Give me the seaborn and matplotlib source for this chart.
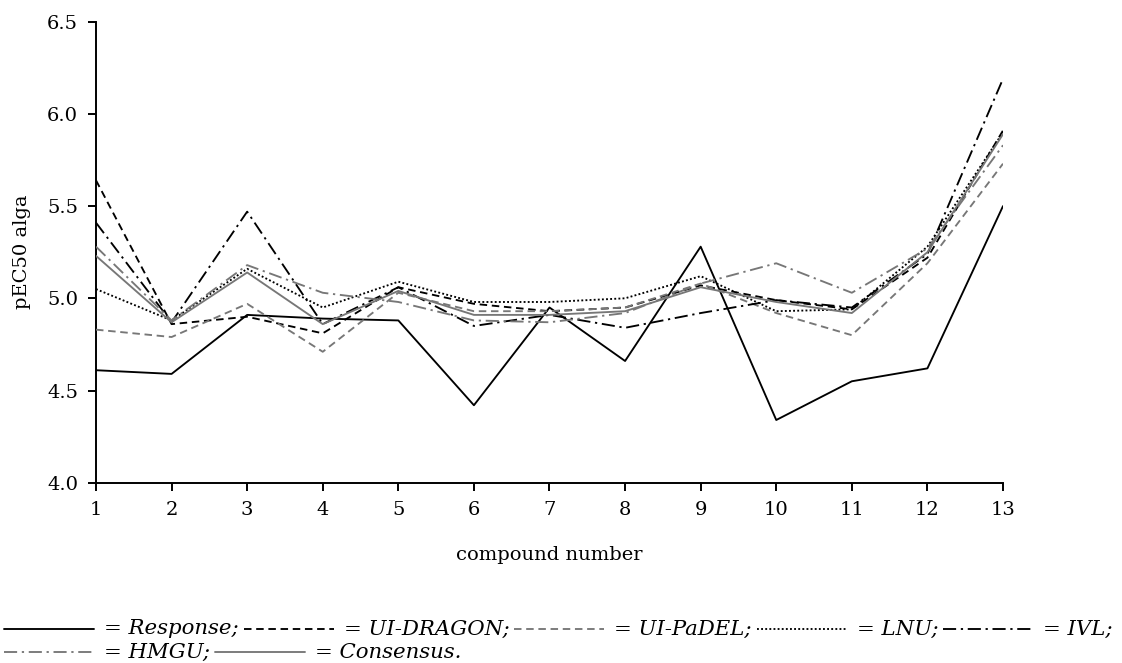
import matplotlib
matplotlib.use("Agg")
import matplotlib.pyplot as plt
from matplotlib.lines import Line2D
import numpy as np
import pandas as pd
import seaborn as sns

# ---------------------------------------------------------------------------
# Data
# ---------------------------------------------------------------------------
compounds = list(range(1, 14))

response   = [4.61, 4.59, 4.91, 4.89, 4.88, 4.42, 4.95, 4.66, 5.28, 4.34, 4.55, 4.62, 5.50]
ui_dragon  = [5.64, 4.86, 4.90, 4.81, 5.06, 4.97, 4.93, 4.95, 5.07, 4.99, 4.94, 5.22, 5.91]
ui_padel   = [4.83, 4.79, 4.97, 4.71, 5.03, 4.93, 4.93, 4.95, 5.08, 4.92, 4.80, 5.19, 5.73]
lnu        = [5.05, 4.88, 5.16, 4.95, 5.09, 4.98, 4.98, 5.00, 5.12, 4.93, 4.94, 5.28, 5.90]
ivl        = [5.41, 4.87, 5.47, 4.86, 5.06, 4.85, 4.91, 4.84, 4.92, 4.99, 4.95, 5.24, 6.19]
hmgu       = [5.28, 4.88, 5.18, 5.03, 4.98, 4.88, 4.87, 4.92, 5.08, 5.19, 5.03, 5.27, 5.83]
consensus  = [5.23, 4.87, 5.14, 4.86, 5.04, 4.91, 4.91, 4.93, 5.06, 4.98, 4.92, 5.25, 5.89]

series_names = ["Response", "UI-DRAGON", "UI-PaDEL", "LNU", "IVL", "HMGU", "Consensus"]
series_values = [response, ui_dragon, ui_padel, lnu, ivl, hmgu, consensus]

y_ticks = [4.0, 4.5, 5.0, 5.5, 6.0, 6.5]

# ---------------------------------------------------------------------------
# Style
# ---------------------------------------------------------------------------
BLACK = "#000000"
GREY = "#777777"
colors = {
    "Response": BLACK, "UI-DRAGON": BLACK, "UI-PaDEL": GREY, "LNU": BLACK,
    "IVL": BLACK, "HMGU": GREY, "Consensus": GREY,
}
dashes = {
    "Response": "", "UI-DRAGON": (4, 2.5), "UI-PaDEL": (4, 2.5),
    "LNU": (1, 1.2), "IVL": (7, 2.5, 1.2, 2.5), "HMGU": (7, 2.5, 1.2, 2.5),
    "Consensus": "",
}
LW = 1.35

sns.set_theme(style="ticks")
plt.rcParams.update({
    "font.family": ["DejaVu Serif"],
    "text.color": "black",
    "axes.labelcolor": "black",
    "axes.edgecolor": "black",
    "axes.linewidth": 1.4,
    "xtick.color": "black",
    "ytick.color": "black",
    "xtick.major.width": 1.4,
    "ytick.major.width": 1.4,
    "xtick.major.size": 6,
    "ytick.major.size": 6,
})

df = pd.DataFrame({
    "compound": np.tile(compounds, len(series_names)),
    "pEC50": np.concatenate(series_values),
    "series": np.repeat(series_names, len(compounds)),
})

W, H = 1122, 663
fig = plt.figure(figsize=(W / 100, H / 100), dpi=100)
ax = fig.add_axes([96 / W, 1 - 482.7 / H, (1003 - 96) / W, (482.7 - 21.7) / H])

sns.lineplot(data=df, x="compound", y="pEC50", hue="series", style="series",
             hue_order=series_names, style_order=series_names,
             palette=colors, dashes=dashes, linewidth=LW, legend=False,
             ax=ax, zorder=3)

ax.set_xlim(1, 13)
ax.set_ylim(4.0, 6.5)
ax.set_xticks(compounds)
ax.set_yticks(y_ticks)
ax.set_yticklabels([f"{v:.1f}" for v in y_ticks])
ax.tick_params(labelsize=14, direction="out", pad=7)
sns.despine(ax=ax)
for s in ("left", "bottom"):
    ax.spines[s].set_linewidth(1.4)

ax.set_xlabel("compound number", fontsize=14)
ax.set_ylabel("pEC50 alga", fontsize=14)
ax.xaxis.set_label_coords(0.5, (482.7 - 555) / 461.0)
ax.yaxis.set_label_coords((22 - 96) / 907.0, 0.5)
ax.xaxis.label.set_va("center")
ax.yaxis.label.set_va("center")

# ---------------------------------------------------------------------------
# Inline key written as two lines of text below the chart
# ---------------------------------------------------------------------------
renderer = fig.canvas.get_renderer()


def draw_key(entries, y_px, x0=4, seg=90):
    x = x0
    yf = 1 - y_px / H
    for name, suffix in entries:
        fig.add_artist(Line2D([x / W, (x + seg) / W], [yf, yf],
                              transform=fig.transFigure, color=colors[name],
                              linewidth=LW,
                              dashes=dashes[name] if dashes[name] else (None, None)))
        x += seg + 10
        t = fig.text(x / W, yf, f"= {name}{suffix}", fontsize=15.3,
                     style="italic", va="center", ha="left", color="black")
        x += t.get_window_extent(renderer).width + 5


draw_key([("Response", ";"), ("UI-DRAGON", ";"), ("UI-PaDEL", ";"),
          ("LNU", ";"), ("IVL", ";")], 629)
draw_key([("HMGU", ";"), ("Consensus", ".")], 652)

fig.savefig("out.png", dpi=100)
